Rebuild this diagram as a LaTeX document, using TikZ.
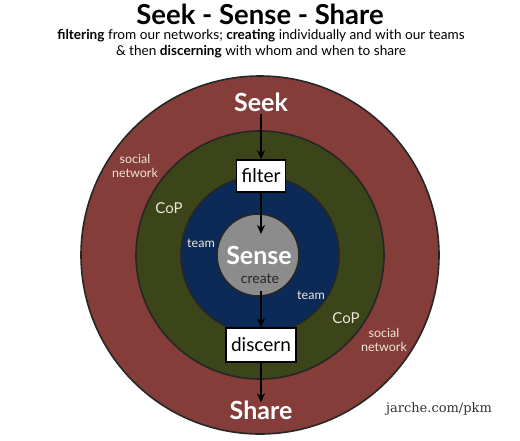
\documentclass[tikz,border=0pt]{standalone}
\usepackage{fontspec}
\setmainfont{Lato}
\newfontfamily\urlfont{DejaVu Serif}
\usetikzlibrary{arrows.meta}
\definecolor{ringred}{HTML}{843D39}
\definecolor{ringgreen}{HTML}{3C4519}
\definecolor{ringblue}{HTML}{0B2A58}
\definecolor{coregray}{HTML}{8C8C8C}
\definecolor{labelcream}{HTML}{EDE6D6}
\tikzset{
  ring/.style={draw=black!85, line width=1.6pt},
  lbl/.style={text=labelcream, font=\fontsize{12.5}{14}\selectfont, align=center, inner sep=0pt},
  stagebox/.style={draw=black, line width=1.3pt, fill=white, inner sep=0pt, font=\fontsize{19}{21}\selectfont},
  flow/.style={-{Stealth[length=9pt,width=8pt]}, line width=1.7pt, black},
  big/.style={text=white, font=\fontsize{25}{27}\selectfont\bfseries, inner sep=0pt}
}
\begin{document}
\begin{tikzpicture}[x=1pt,y=-1pt]
\useasboundingbox (0,0) rectangle (520,440);
\fill[white] (0,0) rectangle (520,440);
% rings
\filldraw[ring, fill=ringred] (260,255) circle (179);
\filldraw[ring, fill=ringgreen] (260,255) circle (124);
\filldraw[ring, fill=ringblue] (260,255) circle (79);
\filldraw[ring, fill=coregray] (258,255) circle (41);
% title
\node[font=\fontsize{27.5}{29}\selectfont\bfseries, inner sep=0pt] (title) at (260,14) {Seek - Sense - Share};
\node[font=\fontsize{13.6}{16}\selectfont, align=center, inner sep=0pt] (sub) at (261,44)
  {\textbf{filtering} from our networks; \textbf{creating} individually and with our teams\\
   \& then \textbf{discerning} with whom and when to share};
% main labels
\node[big] (seek) at (261,102) {Seek};
\node[big] (share) at (261,410) {Share};
\node[big] (sense) at (259,255) {Sense};
\node[text=black!85, font=\fontsize{14}{16}\selectfont, inner sep=0pt] (create) at (260,279) {create};
% boxes
\node[stagebox, minimum width=49pt, minimum height=32pt] (filter) at (261,176) {filter};
\node[stagebox, minimum width=70pt, minimum height=34pt] (discern) at (261,345) {discern};
% ring labels
\node[lbl] (snl) at (135,166) {social\\network};
\node[lbl] (snr) at (384,340) {social\\network};
\node[lbl, font=\fontsize{15}{17}\selectfont] (copl) at (169,208) {CoP};
\node[lbl, font=\fontsize{15}{17}\selectfont] (copr) at (346,318) {CoP};
\node[lbl] (teaml) at (201,243) {team};
\node[lbl] (teamr) at (311,295) {team};
% url
\node[font=\urlfont\fontsize{13}{15}\selectfont, text=black!80, inner sep=0pt] (url) at (439,409) {jarche.com/pkm};
% arrows
\coordinate (sensetip) at (261,234);
\coordinate (createtail) at (261,291);
\draw[flow] ([yshift=-2pt]seek.south) -- (filter.north);
\draw[flow] (filter.south) -- (sensetip);
\draw[flow] (createtail) -- (discern.north);
\draw[flow] (discern.south) -- ([yshift=-2pt]share.north);
\end{tikzpicture}
\end{document}
